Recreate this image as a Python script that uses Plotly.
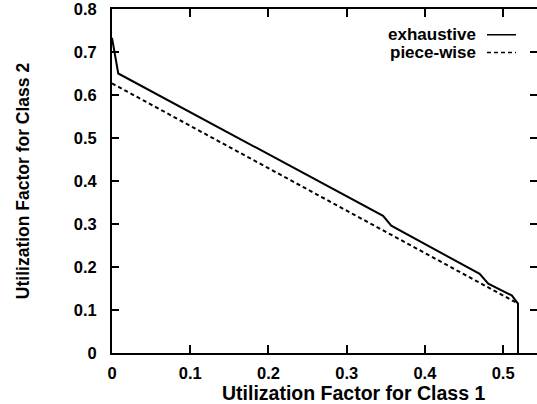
import plotly.graph_objects as go

# Boundary of the stable region (class 1 vs class 2 utilization)
exhaustive_x = [0.0, 0.008, 0.3465, 0.357, 0.470, 0.481, 0.511, 0.519, 0.519]
exhaustive_y = [0.733, 0.650, 0.319, 0.296, 0.184, 0.161, 0.134, 0.115, 0.0]

piecewise_x = [0.0, 0.513, 0.519]
piecewise_y = [0.627, 0.122, 0.115]

x_ticks = [0, 0.1, 0.2, 0.3, 0.4, 0.5]
x_tick_text = ["0", "0.1", "0.2", "0.3", "0.4", "0.5"]
y_ticks = [0, 0.1, 0.2, 0.3, 0.4, 0.5, 0.6, 0.7, 0.8]
y_tick_text = ["0", "0.1", "0.2", "0.3", "0.4", "0.5", "0.6", "0.7", "0.8"]

series_names = ["exhaustive", "piece-wise"]
x_title = "Utilization Factor for Class 1"
y_title = "Utilization Factor for Class 2"

W, H = 537, 404
L, R, T, B = 112, 0, 6, 51
X_RANGE = [0, 0.5433]
Y_RANGE = [0, 0.8]

FONT = "Liberation Sans, Arial, Helvetica, sans-serif"


def px_to_paper(px, py):
    pw = W - L - R
    ph = H - T - B
    return (px - L) / pw, 1 - (py - T) / ph


fig = go.Figure()
fig.add_trace(go.Scatter(
    x=exhaustive_x, y=exhaustive_y, mode="lines", name=series_names[0],
    line=dict(color="black", width=2), showlegend=False, cliponaxis=False,
))
fig.add_trace(go.Scatter(
    x=piecewise_x, y=piecewise_y, mode="lines", name=series_names[1],
    line=dict(color="black", width=2, dash="4px,3px"), showlegend=False,
    cliponaxis=False,
))

# Key: label on the left, line sample on the right
for i, (name, dash) in enumerate(zip(series_names, ["solid", "4px,3px"])):
    ypx = 32 + 18 * i
    tx, ty = px_to_paper(478, ypx)
    fig.add_annotation(
        x=tx, y=ty, xref="paper", yref="paper", text=name, showarrow=False,
        xanchor="right", yanchor="middle",
        font=dict(family=FONT, size=17, color="black", weight="bold"),
    )
    x0, y0 = px_to_paper(487, ypx)
    x1, _ = px_to_paper(516, ypx)
    fig.add_shape(type="line", xref="paper", yref="paper", x0=x0, x1=x1,
                  y0=y0, y1=y0, line=dict(color="black", width=1.5, dash=dash))

# X axis title, centred under the whole frame
tx, ty = px_to_paper(353, 393)
fig.add_annotation(
    x=tx, y=ty, xref="paper", yref="paper", text=x_title, showarrow=False,
    xanchor="center", yanchor="middle",
    font=dict(family=FONT, size=19.5, color="black", weight="bold"),
)

tick_font = dict(family=FONT, size=16.5, color="black", weight="bold")

fig.update_layout(
    width=W, height=H,
    margin=dict(l=L, r=R, t=T, b=B, pad=0),
    paper_bgcolor="white", plot_bgcolor="white",
    xaxis=dict(
        range=X_RANGE, tickvals=x_ticks, ticktext=x_tick_text,
        ticks="inside", ticklen=8, tickwidth=1.5, tickcolor="black",
        showline=True, linecolor="black", linewidth=2, mirror="ticks",
        showgrid=False, zeroline=False, tickfont=tick_font,
        ticklabelstandoff=4, ticklabeloverflow="allow",
    ),
    yaxis=dict(
        range=Y_RANGE, tickvals=y_ticks, ticktext=y_tick_text,
        ticks="inside", ticklen=7, tickwidth=1.5, tickcolor="black",
        showline=True, linecolor="black", linewidth=2, mirror=False,
        showgrid=False, zeroline=False, tickfont=tick_font,
        ticklabelstandoff=10, ticklabeloverflow="allow",
        title=dict(text=y_title, standoff=40,
                   font=dict(family=FONT, size=17.5, color="black", weight="bold")),
    ),
    yaxis2=dict(
        range=Y_RANGE, tickvals=y_ticks, overlaying="y", side="right",
        anchor="x", ticks="inside", ticklen=7, tickwidth=1.5,
        tickcolor="black", showline=False, showgrid=False, zeroline=False,
        showticklabels=False,
    ),
)

# Invisible trace so the right-hand tick axis is rendered
fig.add_trace(go.Scatter(x=[None], y=[None], yaxis="y2", showlegend=False,
                         hoverinfo="skip"))

fig.write_html("out.html")
